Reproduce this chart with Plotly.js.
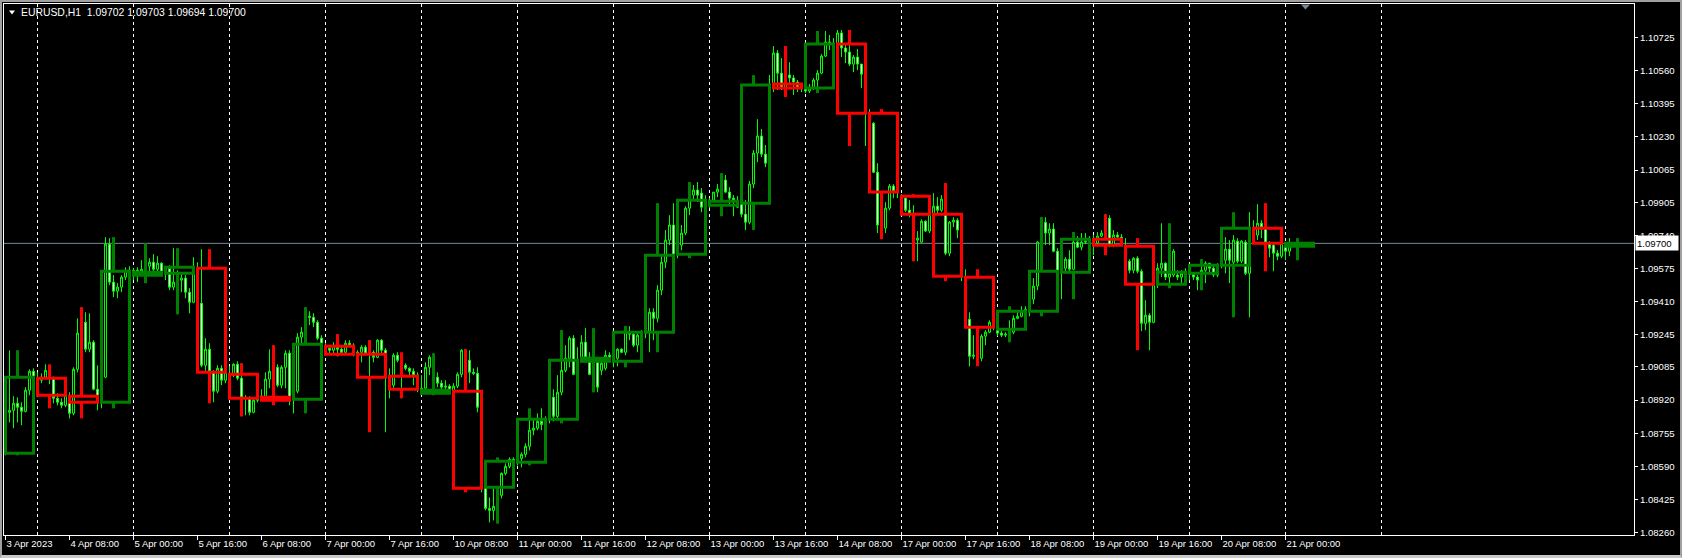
<!DOCTYPE html>
<html><head><meta charset="utf-8">
<script src="https://cdn.plot.ly/plotly-3.0.1.min.js"></script>
<style>
html,body{margin:0;padding:0;background:#000;overflow:hidden;}
#chart{width:1682px;height:558px;}
#frame{position:absolute;left:0;top:0;width:1682px;height:558px;box-sizing:border-box;border-top:2px solid #a0a0a0;border-left:2px solid #a0a0a0;border-right:2px solid #a0a0a0;border-bottom:3px solid #c8c8c8;pointer-events:none;}
</style></head>
<body><div id="chart"></div><div id="frame"></div>
<script>
// ---- H1 bars (EURUSD, from 3 Apr 2023 16:00) ----
const h1Open=[1.08655,1.08859,1.08869,1.08904,1.08884,1.08864,1.08969,1.09063,
1.09029,1.09019,1.09034,1.09068,1.09034,1.08929,1.08909,1.08894,
1.08939,1.08854,1.09073,1.09253,1.09307,1.09173,1.09208,1.08974,
1.08909,1.09034,1.09696,1.09507,1.09462,1.09482,1.09532,1.09566,
1.09542,1.09566,1.09561,1.09571,1.09586,1.09606,1.09571,1.09601,
1.09551,1.09576,1.09482,1.09507,1.09517,1.09527,1.09457,1.09407,
1.09576,1.09402,1.09093,1.09173,1.09063,1.08964,1.09078,1.09019,
1.09048,1.09044,1.09098,1.09029,1.08934,1.08929,1.08859,1.08919,
1.08934,1.08939,1.09024,1.09063,1.09083,1.08994,1.09083,1.09153,
1.08924,1.08964,1.09233,1.09258,1.09337,1.09332,1.09307,1.09228,
1.09188,1.09178,1.09168,1.09193,1.09173,1.09158,1.09203,1.09193,
1.09148,1.09158,1.09183,1.09153,1.09158,1.09133,1.09218,1.09168,
1.09039,1.08994,1.09143,1.09118,1.09093,1.09078,1.09063,1.09044,
1.08954,1.08979,1.09083,1.09133,1.09034,1.09004,1.08984,1.08989,
1.08964,1.08989,1.09048,1.09168,1.09118,1.09058,1.09053,1.08884,
1.08486,1.08381,1.08371,1.08391,1.08446,1.08555,1.08590,1.08625,
1.08610,1.08630,1.08650,1.08690,1.08770,1.08780,1.08814,1.08799,
1.08824,1.08934,1.08839,1.08959,1.09068,1.09128,1.09228,1.09048,
1.09113,1.09208,1.09133,1.09048,1.09108,1.09068,1.09078,1.09143,
1.09113,1.09128,1.09173,1.09158,1.09258,1.09248,1.09193,1.09243,
1.09258,1.09258,1.09357,1.09327,1.09467,1.09606,1.09716,1.09791,
1.09646,1.09691,1.09751,1.09875,1.09940,1.09965,1.09950,1.09880,
1.09890,1.09915,1.09955,1.09970,1.10015,1.09955,1.09925,1.09880,
1.09900,1.09845,1.09805,1.09995,1.10149,1.10234,1.10144,1.10099,
1.10493,1.10647,1.10547,1.10473,1.10538,1.10523,1.10503,1.10473,
1.10473,1.10458,1.10473,1.10513,1.10547,1.10632,1.10702,1.10697,
1.10692,1.10747,1.10672,1.10652,1.10592,1.10627,1.10592,1.10542,
1.10348,1.10298,1.10054,1.09791,1.09776,1.09875,1.09985,1.09960,
1.09935,1.09925,1.09865,1.09850,1.09716,1.09706,1.09810,1.09761,
1.09845,1.09885,1.09865,1.09920,1.09651,1.09806,1.09815,1.09766,
1.09532,1.09322,1.09138,1.09143,1.09128,1.09238,1.09258,1.09307,
1.09273,1.09253,1.09243,1.09248,1.09258,1.09327,1.09337,1.09362,
1.09362,1.09422,1.09487,1.09706,1.09805,1.09751,1.09771,1.09661,
1.09556,1.09576,1.09621,1.09571,1.09706,1.09681,1.09706,1.09711,
1.09721,1.09701,1.09736,1.09751,1.09825,1.09691,1.09741,1.09731,
1.09686,1.09611,1.09566,1.09626,1.09561,1.09302,1.09342,1.09307,
1.09497,1.09576,1.09601,1.09532,1.09542,1.09542,1.09532,1.09551,
1.09551,1.09546,1.09532,1.09517,1.09566,1.09601,1.09576,1.09542,
1.09591,1.09616,1.09671,1.09606,1.09711,1.09611,1.09706,1.09551,
1.09776,1.09741,1.09800,1.09780,1.09701,1.09691,1.09651,1.09636,
1.09686,1.09661,1.09702];
const h1High=[1.08869,1.09168,1.08939,1.08934,1.08909,1.08984,1.09073,1.09078,
1.09058,1.09053,1.09098,1.09093,1.09034,1.08954,1.08929,1.08969,
1.08959,1.09083,1.09327,1.09382,1.09357,1.09352,1.09218,1.09093,
1.09044,1.09731,1.09726,1.09542,1.09502,1.09542,1.09581,1.09586,
1.09576,1.09581,1.09616,1.09701,1.09626,1.09646,1.09636,1.09606,
1.09586,1.09591,1.09676,1.09566,1.09556,1.09542,1.09477,1.09631,
1.09606,1.09671,1.09228,1.09203,1.09068,1.09093,1.09093,1.09078,
1.09088,1.09103,1.09113,1.09103,1.08944,1.08939,1.08929,1.08954,
1.08974,1.09058,1.09173,1.09193,1.09098,1.09093,1.09168,1.09168,
1.08994,1.09253,1.09283,1.09382,1.09362,1.09352,1.09317,1.09243,
1.09203,1.09183,1.09208,1.09248,1.09193,1.09218,1.09218,1.09203,
1.09168,1.09193,1.09193,1.09218,1.09168,1.09223,1.09223,1.09178,
1.09078,1.09153,1.09158,1.09143,1.09103,1.09083,1.09078,1.09058,
1.09044,1.09108,1.09143,1.09153,1.09058,1.09019,1.09019,1.08999,
1.09004,1.09058,1.09173,1.09173,1.09168,1.09078,1.09083,1.08894,
1.08486,1.08436,1.08481,1.08471,1.08560,1.08605,1.08635,1.08635,
1.08645,1.08660,1.08705,1.08869,1.08829,1.08854,1.08879,1.08839,
1.08944,1.08974,1.09044,1.09268,1.09193,1.09238,1.09243,1.09183,
1.09243,1.09278,1.09158,1.09118,1.09113,1.09113,1.09168,1.09158,
1.09138,1.09178,1.09178,1.09288,1.09288,1.09258,1.09253,1.09268,
1.09293,1.09377,1.09377,1.09492,1.09641,1.09766,1.09840,1.09900,
1.09716,1.09791,1.09885,1.10005,1.09990,1.10005,1.09975,1.09940,
1.09925,1.09955,1.09995,1.10049,1.10040,1.09980,1.09940,1.09935,
1.09905,1.09915,1.10010,1.10164,1.10318,1.10269,1.10189,1.10538,
1.10682,1.10662,1.10622,1.10677,1.10602,1.10538,1.10513,1.10493,
1.10478,1.10493,1.10523,1.10562,1.10642,1.10757,1.10737,1.10722,
1.10762,1.10762,1.10697,1.10687,1.10637,1.10667,1.10592,1.10552,
1.10368,1.10303,1.10099,1.09840,1.09905,1.09995,1.09995,1.09975,
1.09945,1.09935,1.09915,1.09890,1.09761,1.09820,1.09815,1.09865,
1.09950,1.09930,1.09940,1.10000,1.09811,1.09830,1.09825,1.09791,
1.09571,1.09357,1.09243,1.09268,1.09248,1.09268,1.09317,1.09327,
1.09293,1.09263,1.09258,1.09317,1.09342,1.09357,1.09387,1.09387,
1.09556,1.09527,1.09711,1.09830,1.09830,1.09800,1.09800,1.09676,
1.09591,1.09631,1.09666,1.09756,1.09736,1.09751,1.09751,1.09736,
1.09741,1.09756,1.09766,1.09845,1.09840,1.09766,1.09756,1.09746,
1.09726,1.09621,1.09631,1.09636,1.09571,1.09417,1.09352,1.09502,
1.09601,1.09800,1.09606,1.09641,1.09671,1.09566,1.09566,1.09576,
1.09576,1.09556,1.09542,1.09621,1.09611,1.09601,1.09591,1.09601,
1.09716,1.09731,1.09716,1.09741,1.09726,1.09716,1.09716,1.09855,
1.09815,1.09895,1.09815,1.09840,1.09711,1.09701,1.09666,1.09716,
1.09691,1.09726,1.09703];
const h1Low=[1.08645,1.08809,1.08780,1.08809,1.08795,1.08859,1.08944,1.09019,
1.08994,1.09004,1.09029,1.08999,1.08904,1.08894,1.08879,1.08884,
1.08829,1.08844,1.09058,1.09218,1.09158,1.09158,1.08969,1.08869,
1.08879,1.09029,1.09492,1.09432,1.09427,1.09457,1.09517,1.09537,
1.09517,1.09507,1.09542,1.09502,1.09556,1.09556,1.09561,1.09537,
1.09517,1.09467,1.09467,1.09347,1.09457,1.09427,1.09352,1.09402,
1.09392,1.09083,1.09058,1.09053,1.08909,1.08954,1.08994,1.09004,
1.09019,1.09034,1.09019,1.08839,1.08844,1.08844,1.08854,1.08909,
1.08919,1.08929,1.08979,1.09019,1.08984,1.08979,1.08979,1.08894,
1.08854,1.08954,1.09203,1.09218,1.09293,1.09283,1.09218,1.09188,
1.09158,1.09153,1.09153,1.09138,1.09153,1.09153,1.09183,1.09138,
1.09118,1.09108,1.09143,1.08765,1.09108,1.09128,1.09153,1.08760,
1.08929,1.08974,1.09108,1.08929,1.09068,1.09044,1.08994,1.08959,
1.08944,1.08959,1.09044,1.09019,1.08984,1.08969,1.08969,1.08954,
1.08944,1.08979,1.09034,1.09093,1.09004,1.09044,1.08859,1.08461,
1.08371,1.08311,1.08321,1.08306,1.08431,1.08546,1.08580,1.08595,
1.08595,1.08585,1.08635,1.08670,1.08745,1.08770,1.08770,1.08780,
1.08804,1.08814,1.08829,1.08944,1.09058,1.09083,1.09044,1.09029,
1.09108,1.09108,1.09044,1.08959,1.08959,1.09044,1.09068,1.09108,
1.09083,1.09088,1.09153,1.09143,1.09218,1.09183,1.09158,1.09218,
1.09228,1.09158,1.09218,1.09307,1.09442,1.09576,1.09691,1.09626,
1.09626,1.09666,1.09741,1.09840,1.09920,1.09905,1.09855,1.09865,
1.09875,1.09905,1.09930,1.09940,1.09950,1.09890,1.09835,1.09875,
1.09830,1.09766,1.09795,1.09975,1.10104,1.10129,1.10079,1.10089,
1.10453,1.10463,1.10463,1.10428,1.10498,1.10438,1.10453,1.10453,
1.10448,1.10448,1.10463,1.10473,1.10542,1.10627,1.10662,1.10672,
1.10662,1.10627,1.10597,1.10582,1.10552,1.10562,1.10473,1.10184,
1.10289,1.10049,1.09751,1.09721,1.09751,1.09865,1.09925,1.09925,
1.09915,1.09855,1.09830,1.09611,1.09611,1.09701,1.09756,1.09751,
1.09756,1.09850,1.09855,1.09641,1.09636,1.09781,1.09726,1.09512,
1.09317,1.09088,1.09123,1.09108,1.09113,1.09193,1.09253,1.09268,
1.09238,1.09233,1.09233,1.09208,1.09248,1.09322,1.09332,1.09352,
1.09337,1.09397,1.09467,1.09666,1.09691,1.09691,1.09656,1.09427,
1.09422,1.09551,1.09556,1.09566,1.09676,1.09666,1.09696,1.09696,
1.09641,1.09696,1.09731,1.09741,1.09681,1.09681,1.09726,1.09686,
1.09606,1.09551,1.09551,1.09551,1.09263,1.09268,1.09168,1.09302,
1.09477,1.09532,1.09517,1.09477,1.09532,1.09517,1.09502,1.09517,
1.09517,1.09517,1.09467,1.09467,1.09502,1.09551,1.09532,1.09532,
1.09576,1.09551,1.09502,1.09591,1.09601,1.09601,1.09542,1.09332,
1.09716,1.09716,1.09726,1.09611,1.09631,1.09561,1.09616,1.09626,
1.09616,1.09636,1.09694];
const h1Close=[1.08859,1.08869,1.08904,1.08884,1.08864,1.08969,1.09063,1.09034,
1.09019,1.09034,1.09068,1.09034,1.08929,1.08909,1.08894,1.08944,
1.08854,1.09073,1.09253,1.09307,1.09173,1.09208,1.08974,1.08909,
1.09034,1.09696,1.09507,1.09462,1.09482,1.09532,1.09566,1.09561,
1.09566,1.09561,1.09571,1.09586,1.09606,1.09571,1.09601,1.09556,
1.09576,1.09482,1.09507,1.09517,1.09527,1.09457,1.09407,1.09581,
1.09402,1.09093,1.09173,1.09063,1.08964,1.09078,1.09019,1.09058,
1.09044,1.09098,1.09029,1.08934,1.08929,1.08859,1.08919,1.08929,
1.08939,1.09024,1.09063,1.09083,1.08994,1.09083,1.09153,1.08919,
1.08964,1.09233,1.09258,1.09337,1.09332,1.09307,1.09228,1.09198,
1.09178,1.09168,1.09193,1.09173,1.09158,1.09203,1.09193,1.09148,
1.09158,1.09183,1.09153,1.09158,1.09133,1.09218,1.09168,1.09034,
1.08994,1.09143,1.09118,1.09093,1.09078,1.09063,1.09044,1.08974,
1.08979,1.09083,1.09133,1.09034,1.09004,1.08984,1.08989,1.08969,
1.08989,1.09048,1.09168,1.09118,1.09058,1.09053,1.08884,1.08481,
1.08381,1.08371,1.08391,1.08446,1.08555,1.08590,1.08625,1.08615,
1.08630,1.08650,1.08690,1.08770,1.08780,1.08814,1.08799,1.08824,
1.08934,1.08839,1.08959,1.09068,1.09128,1.09228,1.09048,1.09118,
1.09208,1.09133,1.09048,1.09108,1.08984,1.09103,1.09143,1.09128,
1.09128,1.09173,1.09158,1.09258,1.09248,1.09193,1.09243,1.09258,
1.09268,1.09357,1.09327,1.09467,1.09606,1.09716,1.09791,1.09641,
1.09691,1.09751,1.09875,1.09940,1.09965,1.09940,1.09880,1.09915,
1.09915,1.09955,1.09970,1.10015,1.09955,1.09925,1.09915,1.09910,
1.09845,1.09805,1.09995,1.10149,1.10234,1.10144,1.10099,1.10488,
1.10647,1.10547,1.10473,1.10538,1.10523,1.10503,1.10473,1.10473,
1.10458,1.10473,1.10513,1.10547,1.10632,1.10702,1.10697,1.10692,
1.10747,1.10672,1.10652,1.10592,1.10627,1.10592,1.10542,1.10348,
1.10298,1.10054,1.09791,1.09776,1.09875,1.09985,1.09960,1.09955,
1.09925,1.09865,1.09850,1.09716,1.09726,1.09810,1.09761,1.09845,
1.09885,1.09865,1.09920,1.09651,1.09806,1.09815,1.09766,1.09537,
1.09322,1.09138,1.09143,1.09128,1.09238,1.09258,1.09307,1.09283,
1.09253,1.09243,1.09248,1.09258,1.09327,1.09337,1.09362,1.09372,
1.09422,1.09487,1.09706,1.09805,1.09751,1.09771,1.09661,1.09561,
1.09576,1.09621,1.09571,1.09706,1.09681,1.09706,1.09711,1.09721,
1.09701,1.09736,1.09751,1.09825,1.09691,1.09741,1.09731,1.09691,
1.09611,1.09566,1.09626,1.09561,1.09302,1.09342,1.09307,1.09497,
1.09576,1.09601,1.09532,1.09551,1.09661,1.09532,1.09551,1.09556,
1.09546,1.09532,1.09517,1.09566,1.09601,1.09576,1.09542,1.09591,
1.09666,1.09671,1.09616,1.09716,1.09611,1.09711,1.09551,1.09776,
1.09741,1.09800,1.09780,1.09701,1.09676,1.09651,1.09636,1.09701,
1.09661,1.09691,1.09700];

// ---- H8 overlay candles (each spans 8 H1 bars) ----
const h8Open=[1.08655,1.09028,1.08939,1.08909,1.09541,1.09551,1.09576,1.09048,1.08934,1.08924,1.09188,1.09148,1.09038,1.08954,1.08964,1.08486,1.08610,1.08824,1.09113,1.09113,1.09258,1.09646,1.09890,1.09900,1.10493,1.10473,1.10692,1.10348,1.09935,1.09845,1.09531,1.09273,1.09362,1.09556,1.09721,1.09686,1.09497,1.09551,1.09591,1.09775,1.09686];
const h8High=[1.09168,1.09098,1.09382,1.09731,1.09701,1.09676,1.09671,1.09103,1.09193,1.09382,1.09248,1.09218,1.09158,1.09153,1.09173,1.08635,1.08879,1.09268,1.09278,1.09288,1.09900,1.10005,1.10049,1.10537,1.10682,1.10757,1.10762,1.10368,1.09945,1.10000,1.09571,1.09387,1.09830,1.09756,1.09845,1.09726,1.09800,1.09621,1.09855,1.09900,1.09726];
const h8Low=[1.08645,1.08879,1.08829,1.08879,1.09502,1.09347,1.08904,1.08839,1.08894,1.08854,1.09138,1.08760,1.08929,1.08944,1.08461,1.08306,1.08595,1.08804,1.08959,1.09083,1.09158,1.09626,1.09835,1.09766,1.10428,1.10448,1.10184,1.09721,1.09611,1.09512,1.09088,1.09208,1.09337,1.09422,1.09641,1.09168,1.09477,1.09467,1.09332,1.09561,1.09616];
const h8Close=[1.09033,1.08944,1.08909,1.09561,1.09556,1.09581,1.09058,1.08929,1.08919,1.09198,1.09148,1.09033,1.08974,1.08969,1.08481,1.08615,1.08824,1.09118,1.09128,1.09258,1.09641,1.09915,1.09910,1.10488,1.10473,1.10692,1.10348,1.09955,1.09845,1.09536,1.09283,1.09362,1.09561,1.09721,1.09691,1.09497,1.09556,1.09591,1.09775,1.09701,1.09700];

const xTickLabels=['3 Apr 2023','4 Apr 08:00','5 Apr 00:00','5 Apr 16:00','6 Apr 08:00','7 Apr 00:00','7 Apr 16:00','10 Apr 08:00','11 Apr 00:00','11 Apr 16:00','12 Apr 08:00','13 Apr 00:00','13 Apr 16:00','14 Apr 08:00','17 Apr 00:00','17 Apr 16:00','18 Apr 08:00','19 Apr 00:00','19 Apr 16:00','20 Apr 08:00','21 Apr 00:00'];
const yTickLabels=['1.10725','1.10560','1.10395','1.10230','1.10065','1.09905','1.09740','1.09575','1.09410','1.09245','1.09085','1.08920','1.08755','1.08590','1.08425','1.08260'];
const symbolName='EURUSD,H1';

// ---- drawing ----
const FONT='Liberation Sans, Arial, sans-serif';
const PL=4, PT=4, PW=1630, PH=531;
const pxX=x=>(x-PL)/PW, pxY=y=>(PT+PH-y)/PH;
const n=h1Open.length;
const idx=h1Open.map((_,i)=>i);
const last=n-1;
const bid=h1Close[last];

const candles={type:'candlestick',x:idx,open:h1Open,high:h1High,low:h1Low,close:h1Close,
  increasing:{line:{color:'#00ff00',width:1},fillcolor:'#000000'},
  decreasing:{line:{color:'#00ff00',width:1},fillcolor:'#ffffff'},
  whiskerwidth:0,hoverinfo:'skip',showlegend:false};

function h8Trace(bull){
  const xs=[],ys=[];
  h8Open.forEach((o,k)=>{
    const c=h8Close[k];
    if((c>=o)!==bull) return;
    const a=k*8,b=k*8+7,w=k*8+3;
    xs.push(a,b,b,a,a,b,null); ys.push(o,o,c,c,o,o,null);
    const top=Math.max(o,c),bot=Math.min(o,c);
    if(h8High[k]>top){xs.push(w,w,null);ys.push(top,h8High[k],null);}
    if(h8Low[k]<bot){xs.push(w,w,null);ys.push(bot,h8Low[k],null);}
  });
  return {type:'scatter',mode:'lines',x:xs,y:ys,connectgaps:false,
    line:{color:bull?'#008000':'#ff0000',width:3,shape:'linear'},hoverinfo:'skip',showlegend:false};
}

const shapes=[];
for(let b=8;b<=344;b+=24){
  shapes.push({type:'line',xref:'x',yref:'paper',x0:b,x1:b,y0:0,y1:1,layer:'below',
    line:{color:'#ffffff',width:1,dash:'3px,3px'}});
}
shapes.push({type:'line',xref:'paper',yref:'y',x0:0,x1:1,y0:bid,y1:bid,layer:'below',
  line:{color:'#778899',width:1}});
shapes.push({type:'path',xref:'paper',yref:'paper',
  path:`M ${pxX(9)},${pxY(10.5)} L ${pxX(15)},${pxY(10.5)} L ${pxX(12)},${pxY(14.5)} Z`,
  fillcolor:'#ffffff',line:{width:0}});
shapes.push({type:'path',xref:'paper',yref:'paper',
  path:`M ${pxX(1301)},${pxY(4.5)} L ${pxX(1310)},${pxY(4.5)} L ${pxX(1305.5)},${pxY(9.5)} Z`,
  fillcolor:'#778899',line:{width:0}});

const f5=v=>v.toFixed(5);
const annotations=[
  {xref:'paper',yref:'paper',x:pxX(19),y:pxY(12.5),xanchor:'left',yanchor:'middle',showarrow:false,
   text:`${symbolName}\u00a0\u00a0${f5(h1Open[last])} ${f5(h1High[last])} ${f5(h1Low[last])} ${f5(h1Close[last])}`,
   font:{family:FONT,size:10.4,color:'#ffffff'}},
  {xref:'paper',yref:'y',x:1,y:bid,xanchor:'left',yanchor:'middle',xshift:1,showarrow:false,
   text:f5(bid),bgcolor:'#ffffff',borderpad:1,width:40,height:12,align:'left',
   font:{family:FONT,size:9.6,color:'#000000'}}
];

const layout={width:1682,height:558,margin:{l:PL,r:1682-PL-PW,t:PT,b:558-PT-PH,pad:0},
  paper_bgcolor:'#000000',plot_bgcolor:'#000000',showlegend:false,
  boxgap:0.5,boxgroupgap:0,
  xaxis:{type:'linear',range:[-0.375,407.125],rangeslider:{visible:false},showgrid:false,zeroline:false,
    showline:true,mirror:true,linecolor:'#ffffff',linewidth:1,
    ticks:'outside',ticklen:4,tickcolor:'#ffffff',tickwidth:1,tickangle:0,
    tickvals:xTickLabels.map((_,i)=>i*16),ticktext:xTickLabels,ticklabelposition:'outside right',
    tickfont:{family:FONT,size:9.5,color:'#ffffff'},automargin:false,fixedrange:true},
  yaxis:{side:'right',range:[1.082485,1.108912],showgrid:false,zeroline:false,
    showline:true,mirror:true,linecolor:'#ffffff',linewidth:1,
    ticks:'outside',ticklen:3,tickcolor:'#ffffff',tickwidth:1,
    tickvals:yTickLabels.map(Number),ticktext:yTickLabels,
    tickfont:{family:FONT,size:9.6,color:'#ffffff'},automargin:false,fixedrange:true},
  shapes:shapes,annotations:annotations};

Plotly.newPlot('chart',[candles,h8Trace(true),h8Trace(false)],layout,{staticPlot:true,displayModeBar:false});
</script></body></html>
